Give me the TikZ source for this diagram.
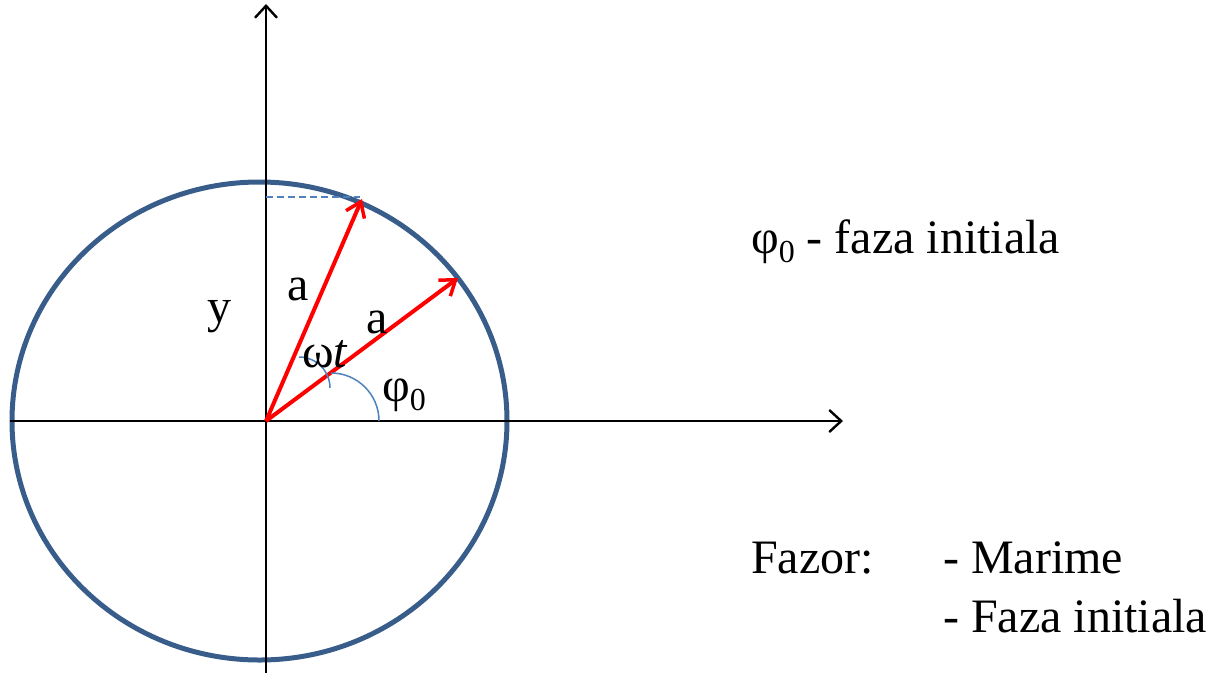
\documentclass[tikz,border=0pt]{standalone}
\usepackage{fontspec}
\setmainfont{Liberation Serif}
\usetikzlibrary{arrows.meta}
\definecolor{circblue}{RGB}{56,93,138}
\definecolor{arcblue}{RGB}{79,129,189}
\newcommand{\subz}{{\fontsize{32}{32}\selectfont\raisebox{-9pt}{0}}}
\begin{document}
\begin{tikzpicture}[x=1pt,y=-1pt,
  axis/.style={line width=2.4pt,-{Straight Barb[length=12pt,width=22pt,line width=2.4pt]}},
  phasor/.style={red,line width=4pt,-{Straight Barb[length=14pt,width=20pt,line width=3.5pt]}},
  lbl/.style={anchor=base west,inner sep=0pt,font=\fontsize{48}{56}\selectfont},
  anglearc/.style={arcblue,line width=1.5pt}]
\useasboundingbox (0,0) rectangle (1212,673);
% circle
\draw[circblue,line width=5pt] (259.5,421) ellipse [x radius=247.5pt, y radius=239pt];
% axes
\coordinate (O) at (266,421);
\coordinate (yb) at (266,673);
\coordinate (yt) at (266,4);
\coordinate (xl) at (10,421);
\coordinate (xr) at (843,421);
\draw[axis] (yb) -- (yt);
\draw[axis] (xl) -- (xr);
% phasors
\coordinate (A) at (362,199);
\coordinate (B) at (458,278);
\coordinate (D) at (266,197);
\draw[arcblue,line width=1.6pt,dash pattern=on 7pt off 4pt] (D) -- (360,197);
\draw[phasor] (O) -- (A);
\draw[phasor] (O) -- (B);
% angle arcs
\draw[anglearc] (379,421) arc[start angle=0,end angle=90,radius=48pt];
\draw[anglearc] (299,357) arc[start angle=90,end angle=0,radius=31pt];
% labels
\node[lbl] (ly) at (207,322) {y};
\node[lbl] (la1) at (287,300) {a};
\node[lbl] (la2) at (366,333) {a};
\node[lbl] (lwt) at (302,367) {ω\textit{t}};
\node[lbl] (lphi) at (382,401) {φ\subz};
\node[lbl] (lfaza) at (751,253) {φ\subz\ - faza initiala};
\node[lbl] (lfazor) at (751,573) {Fazor:};
\node[lbl] (lmar) at (943,573) {- Marime};
\node[lbl] (lfi) at (943,632) {- Faza initiala};
\end{tikzpicture}
\end{document}
